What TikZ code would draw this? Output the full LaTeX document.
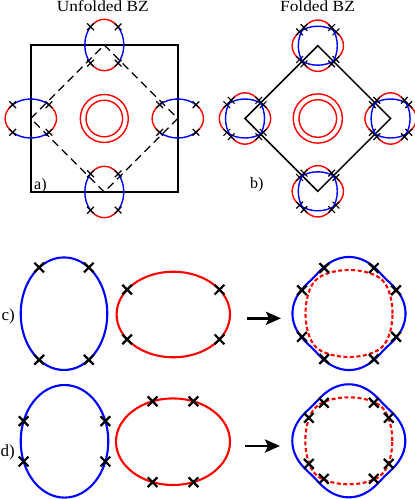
\documentclass[tikz,border=0pt]{standalone}
\usepackage{fontspec}
\setmainfont{Liberation Serif}
\newfontfamily\headfont[FakeStretch=1.12]{Liberation Serif}
\usetikzlibrary{calc,arrows.meta,shapes.misc}

\tikzset{
  bzline/.style={line width=1.5pt, black},
  foldline/.style={line width=1.3pt, dash pattern=on 8pt off 5pt},
  pocketline/.style={line width=1.4pt},
  fermiblue/.style={line width=2.1pt, blue},
  fermired/.style={line width=2.1pt, red},
  fermidash/.style={line width=2.1pt, red, dash pattern=on 4pt off 2.5pt},
  nodemark/.style={cross out, draw, line width=1.2pt, minimum size=5.5pt, inner sep=0pt},
  bignodemark/.style={cross out, draw, line width=2.2pt, minimum size=7.5pt, inner sep=0pt},
  heading/.style={font=\headfont\fontsize{15.5}{18}\selectfont, inner sep=0pt},
  panel/.style={font=\fontsize{16}{19}\selectfont, inner sep=0pt, anchor=base west},
  bigpanel/.style={font=\fontsize{17}{20}\selectfont, inner sep=0pt, anchor=base west},
  foldarrow/.style={line width=2.6pt, -{Stealth[length=15pt,width=13pt,inset=3pt]}},
}

% pocket: centre, x radius, y radius, colour at 0/180 deg, colour at 90/270 deg
\newcommand\pocket[5]{%
  \foreach \a/\col in {-45/#4, 45/#5, 135/#4, 225/#5}
    \draw[pocketline, \col] ($(#1)+(\a:#2pt and #3pt)$)
      arc[start angle=\a, end angle=\a+90, x radius=#2pt, y radius=#3pt];
  \foreach \a in {45,135,225,315}
    \node[nodemark] (#1-x\a) at ($(#1)+(\a:#2pt and #3pt)$) {};
}

\begin{document}
\begin{tikzpicture}[x=1pt, y=1pt,
  declare function={
    rA(\t)=2457.75/sqrt((56.5*cos(\t))^2+(43.5*sin(\t))^2);
    rB(\t)=2457.75/sqrt((43.5*cos(\t))^2+(56.5*sin(\t))^2);
    rout(\t)=50*(pow(rA(\t)/50,20)+pow(rB(\t)/50,20))^(0.05);
    rin(\t)=50/(1/pow(rA(\t)/50,20)+1/pow(rB(\t)/50,20))^(0.05);
  }]
\useasboundingbox (0,0) rectangle (415,-499);

% a) unfolded zone
\node[heading, anchor=base] (ttlA) at (102.8,-11.7) {Unfolded BZ};
\coordinate (Ga) at (104.3,-118.5);
\coordinate (aN) at ($(Ga)+(0,73.5)$);
\coordinate (aS) at ($(Ga)+(0,-73.5)$);
\coordinate (aW) at ($(Ga)+(-73.5,0)$);
\coordinate (aE) at ($(Ga)+(73.5,0)$);
\draw[bzline] ($(Ga)+(-73.5,-73.5)$) rectangle ($(Ga)+(73.5,73.5)$);
\draw[foldline] (aN) -- (aE) -- (aS) -- (aW) -- cycle;
\pocket{aN}{19.5}{25.7}{blue}{red}
\pocket{aS}{19.5}{25.7}{blue}{red}
\pocket{aW}{25.7}{19.5}{red}{blue}
\pocket{aE}{25.7}{19.5}{red}{blue}
\draw[pocketline, red] (Ga) circle[radius=24pt] (Ga) circle[radius=18.3pt];
\node[panel] (lblA) at (34,-189.3) {a)};

% b) folded zone
\node[heading, anchor=base] (ttlB) at (317.5,-11.7) {Folded BZ};
\coordinate (Gb) at (317.8,-118.5);
\coordinate (bN) at ($(Gb)+(0,72.8)$);
\coordinate (bS) at ($(Gb)+(0,-72.8)$);
\coordinate (bW) at ($(Gb)+(-72.8,0)$);
\coordinate (bE) at ($(Gb)+(72.8,0)$);
\draw[bzline] (bN) -- (bE) -- (bS) -- (bW) -- cycle;
\foreach \p in {bN,bS,bW,bE}{
  \pocket{\p}{25.7}{19.5}{red}{blue}
  \pocket{\p}{19.5}{25.7}{blue}{red}
}
\draw[pocketline, red] (Gb) circle[radius=24.6pt] (Gb) circle[radius=18.8pt];
\node[panel] (lblB) at (250,-188.5) {b)};

% c)
\node[bigpanel] (lblC) at (1.5,-320) {c)};
\coordinate (cA) at (64,-313.7);
\coordinate (cB) at (173.3,-314.5);
\draw[fermiblue] (cA) ellipse[x radius=43.3pt, y radius=56.3pt];
\draw[fermired] (cB) ellipse[x radius=56.7pt, y radius=42.8pt];
\foreach \a in {55,125,235,305}
  \node[bignodemark] (cA-x\a) at ($(cA)+(\a:43.3pt and 56.3pt)$) {};
\foreach \a in {35.5,144.5,215.5,324.5}
  \node[bignodemark] (cB-x\a) at ($(cB)+(\a:56.7pt and 42.8pt)$) {};
\coordinate (cT) at (247,-318.3);
\coordinate (cH) at (281,-318.3);
\draw[foldarrow] (cT) -- (cH);
\coordinate (cC) at (349,-313.5);
\draw[fermidash, shift={(cC)}] plot[domain=0:360, samples=181, variable=\t] (\t:{rin(\t)}) -- cycle;
\draw[fermiblue, shift={(cC)}] plot[domain=0:360, samples=181, variable=\t] (\t:{rout(\t)}) -- cycle;
\foreach \dx/\dy [count=\i] in {24.8/45.5,-24.8/45.5,47/23.3,-47/23.3,47/-23.3,-47/-23.3,24.8/-45.5,-24.8/-45.5}
  \node[bignodemark] (cC-x\i) at ($(cC)+(\dx,\dy)$) {};

% d)
\node[bigpanel] (lblD) at (0.5,-456.7) {d)};
\coordinate (dA) at (64.5,-441.3);
\coordinate (dB) at (173,-441.7);
\draw[fermiblue] (dA) ellipse[x radius=43.8pt, y radius=56.3pt];
\draw[fermired] (dB) ellipse[x radius=57pt, y radius=43.3pt];
\foreach \a in {21,159,201,339}
  \node[bignodemark] (dA-x\a) at ($(dA)+(\a:43.8pt and 56.3pt)$) {};
\foreach \a in {69,111,249,291}
  \node[bignodemark] (dB-x\a) at ($(dB)+(\a:57pt and 43.3pt)$) {};
\coordinate (dT) at (245,-446);
\coordinate (dH) at (280,-446);
\draw[foldarrow] (dT) -- (dH);
\coordinate (dC) at (348.8,-440.8);
\draw[fermidash, shift={(dC)}] plot[domain=0:360, samples=181, variable=\t] (\t:{rin(\t)}) -- cycle;
\draw[fermiblue, shift={(dC)}] plot[domain=0:360, samples=181, variable=\t] (\t:{rout(\t)}) -- cycle;
\foreach \dx/\dy [count=\i] in {25/38,-25/38,40/23,-40/23,40/-23,-40/-23,25/-38,-25/-38}
  \node[bignodemark] (dC-x\i) at ($(dC)+(\dx,\dy)$) {};
\end{tikzpicture}
\end{document}
